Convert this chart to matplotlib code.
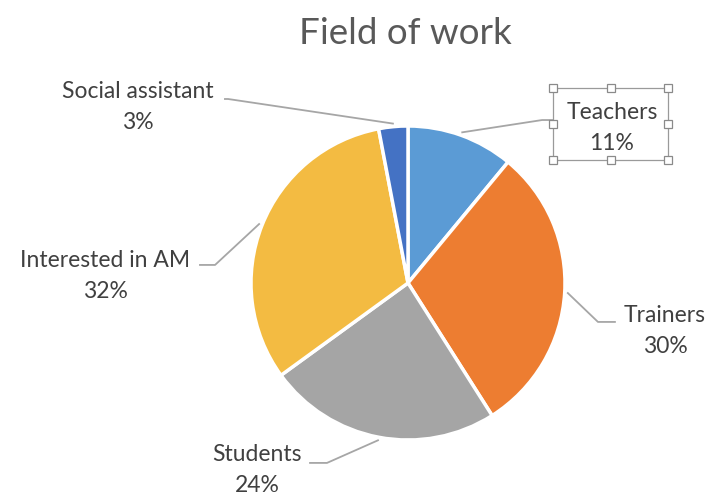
import numpy as np
import matplotlib
matplotlib.use("Agg")
import matplotlib.pyplot as plt
import matplotlib.patches as mpatches

# data
categories = ["Teachers", "Trainers", "Students", "Interested in AM", "Social assistant"]
shares = [11, 30, 24, 32, 3]
colors = ["#5B9BD5", "#ED7D31", "#A5A5A5", "#F3BB42", "#4472C4"]

# label layout (pie radius units): elbow, end of leader, text centre
layout = {
    "Teachers": ((0.854, 1.038), (0.924, 1.038), (1.299, 0.987)),
    "Trainers": ((1.210, -0.248), (1.318, -0.248), (1.637, -0.306)),
    "Students": ((-0.516, -1.146), (-0.624, -1.146), (-0.962, -1.191)),
    "Interested in AM": ((-1.229, 0.115), (-1.325, 0.115), (-1.930, 0.045)),
    "Social assistant": ((-1.146, 1.172), (-1.166, 1.172), (-1.720, 1.121)),
}

plt.rcParams['font.family'] = ['Lato', 'DejaVu Sans']

W, H = 710, 497
fig = plt.figure(figsize=(W / 100, H / 100), dpi=100)
cx, cy, r = 408, 283, 157
ax = fig.add_axes([(cx - r) / W, (H - cy - r) / H, 2 * r / W, 2 * r / H])

wedges, _ = ax.pie(shares, colors=colors, startangle=90, counterclock=False,
                   wedgeprops=dict(edgecolor="white", linewidth=2.5))
ax.set_xlim(-1, 1)
ax.set_ylim(-1, 1)
ax.axis("off")

for w, name, val in zip(wedges, categories, shares):
    mid = np.deg2rad((w.theta1 + w.theta2) / 2)
    start = (1.02 * np.cos(mid), 1.02 * np.sin(mid))
    elbow, end, txt = layout[name]
    ax.plot([start[0], elbow[0], end[0]], [start[1], elbow[1], end[1]],
            color="#A6A6A6", lw=1.3, clip_on=False)
    ax.text(txt[0], txt[1], f"{name}\n{val}%", ha="center", va="center",
            multialignment="center", fontsize=16.5, color="#404040",
            linespacing=1.6, clip_on=False)

# selection box around the Teachers label
bx0, bx1, by0, by1 = 553 / W, 668 / W, 1 - 160 / H, 1 - 88 / H
fig.patches.append(mpatches.Rectangle((bx0, by0), bx1 - bx0, by1 - by0,
                                      transform=fig.transFigure, fill=False,
                                      edgecolor="#9A9A9A", lw=0.9))
hs = 8
for hx in (bx0, (bx0 + bx1) / 2, bx1):
    for hy in (by0, (by0 + by1) / 2, by1):
        if hx == (bx0 + bx1) / 2 and hy == (by0 + by1) / 2:
            continue
        fig.patches.append(mpatches.Rectangle((hx - hs / 2 / W, hy - hs / 2 / H),
                                              hs / W, hs / H,
                                              transform=fig.transFigure,
                                              facecolor="white",
                                              edgecolor="#8A8A8A", lw=0.9,
                                              zorder=5))

fig.text(405 / W, 1 - 33 / H, "Field of work", ha="center", va="center",
         fontsize=26.5, color="#595959")

fig.savefig("out.png", dpi=100)
